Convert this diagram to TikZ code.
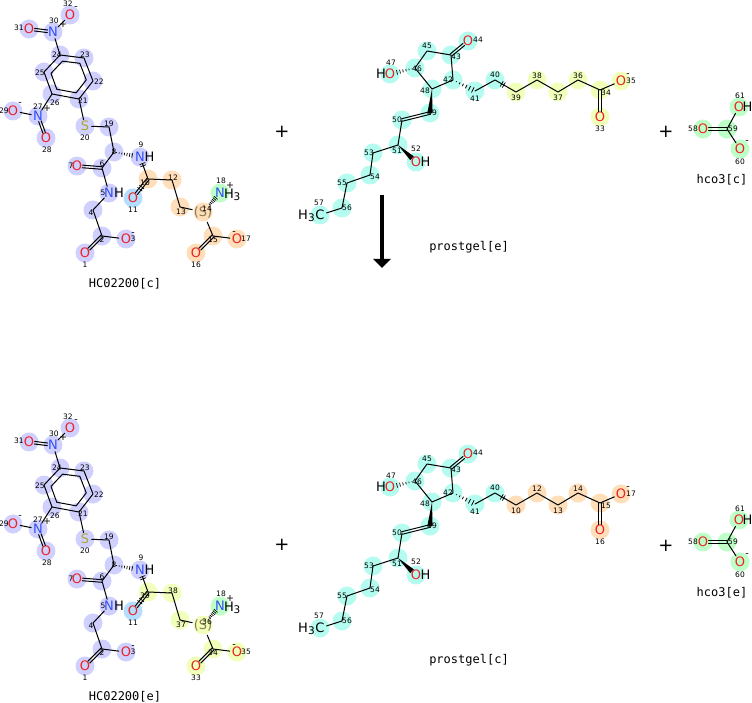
\documentclass[tikz,border=0pt]{standalone}
\usepackage{fontspec}
\setmainfont{DejaVu Sans}
\newfontfamily\capfont{DejaVu Sans Mono}
\usetikzlibrary{calc,arrows.meta}
\pgfdeclarelayer{bg}
\pgfsetlayers{bg,main}

\definecolor{ored}{RGB}{235,35,35}
\definecolor{nblue}{RGB}{50,80,245}
\definecolor{solive}{RGB}{175,165,50}
\definecolor{sbrown}{RGB}{140,120,80}
\definecolor{hlblue}{RGB}{208,208,255}
\definecolor{hlcyan}{RGB}{180,252,240}
\definecolor{hlyellow}{RGB}{240,255,185}
\definecolor{hlorange}{RGB}{255,222,186}
\definecolor{hlgreen}{RGB}{190,255,200}
\definecolor{hlsky}{RGB}{180,222,255}

% double bond, hashed bond, wedge bond, change ticks
\newcommand\dbond[3][]{%
  \draw[bond,#1] ($(#2)!1.3pt!90:(#3)$) -- ($(#3)!1.3pt!-90:(#2)$);
  \draw[bond,#1] ($(#2)!1.3pt!-90:(#3)$) -- ($(#3)!1.3pt!90:(#2)$);}
\newcommand\hbond[3][0.15,0.3,0.45,0.6,0.75,0.9]{%
  \foreach \fr in {#1}
    \draw[line width=0.7pt] ($(#2)!\fr!(#3)!{\fr*3.2pt}!90:(#3)$) -- ($(#2)!\fr!(#3)!{\fr*3.2pt}!-90:(#3)$);}
\newcommand\wbond[3][0pt]{%
  \fill ($(#2)$) -- ($(#3)!#1!(#2)!2.6pt!90:(#2)$) -- ($(#3)!#1!(#2)!2.6pt!-90:(#2)$) -- cycle;}
\newcommand\btick[3]{%
  \foreach \fr in {#1}
    \draw[line width=0.7pt] ($(#2)!\fr!(#3)!3pt!90:(#3)$) -- ($(#2)!\fr!(#3)!3pt!-90:(#3)$);}

\begin{document}
\begin{tikzpicture}[x=1pt, y=-1pt,
    bond/.style = {draw=black, line width=1pt, line cap=round, line join=round},
    atom/.style = {circle, inner sep=0pt, minimum size=11pt, font=\fontsize{13}{13}\selectfont},
    oxy/.style = {atom, text=ored},
    nit/.style = {atom, text=nblue},
    sul/.style = {atom, text=solive},
    car/.style = {atom, text=black},
    hyd/.style = {inner sep=0pt, font=\fontsize{13}{13}\selectfont},
    sub/.style = {inner sep=0pt, font=\fontsize{10.5}{10.5}\selectfont},
    num/.style = {inner sep=0pt, font=\fontsize{7.5}{7.5}\selectfont},
    chg/.style = {inner sep=0pt, font=\fontsize{9.5}{9.5}\selectfont},
    molname/.style = {inner sep=0pt, font=\capfont\fontsize{12}{12}\selectfont},
    plus/.style = {inner sep=0pt, font=\fontsize{18}{18}\selectfont}]
  \useasboundingbox (0,0) rectangle (752,703);

  % HC02200, top and bottom
  \foreach \p/\dy/\hc/\ma/\mb/\mc/\md/\me/\mf/\mg/\cmp in
      {t/0/hlorange/10/12/13/14/15/16/17/c, b/413/hlyellow/39/38/37/36/34/33/35/e} {
  \begin{scope}[shift={(0,\dy)}]
    \node[oxy] (\p-o32) at (70,15) {O};
    \node[nit] (\p-n30) at (53,32) {N};
    \node[oxy] (\p-o31) at (29,29) {O};
    \node[nit] (\p-n27) at (38,116) {N};
    \node[oxy] (\p-o29) at (13,111) {O};
    \node[oxy] (\p-o28) at (46,138) {O};
    \node[sul] (\p-s20) at (85,126) {S};
    \node[nit] (\p-n9) at (140,157) {N};
    \node[oxy] (\p-o7) at (77,166) {O};
    \node[nit] (\p-n5) at (109,193) {N};
    \node[oxy] (\p-o1) at (85,253) {O};
    \node[oxy] (\p-o3) at (126,239) {O};
    \node[oxy] (\p-o11) at (133,198) {O};
    \node[sul, text=sbrown] (\p-s14) at (203,212) {(S)};
    \node[nit] (\p-n18) at (220,193) {N};
    \node[oxy] (\p-o16) at (196,253) {O};
    \node[oxy] (\p-o17) at (237,239) {O};
    \node[hyd] at (149.5,157) {H};
    \node[hyd] at (119,193) {H};
    \node[hyd] at (229,194) {H};
    \node[sub] at (237,197) {3};
    \foreach \a/\x/\y in {c24/60/55, c23/84/58, c22/93/81, c21/79/99, c26/52/94, c25/44/72,
        c19/109/127, c8/114/152, c6/102/168, c4/93/210, c2/102/236,
        c10/148/179, c12/172/180, c13/180/207, c15/213/236}
      \coordinate (\p-\a) at (\x,\y);
    \coordinate (\p-ring) at (69,77);

    \begin{pgfonlayer}{bg}
      \foreach \a in {o32,n30,o31,c24,c23,c22,c21,c26,c25,n27,o29,o28,s20,c19,c8,n9,c6,o7,n5,c4,c2,o1,o3}
        \fill[fill=hlblue] (\p-\a) circle (9.5pt);
      \fill[fill=hlsky] (\p-o11) circle (9.5pt);
      \fill[fill=hlgreen] (\p-n18) circle (9.5pt);
      \foreach \a in {c10,c12,c13,s14,c15,o16,o17}
        \fill[fill=\hc] (\p-\a) circle (9.5pt);
    \end{pgfonlayer}

    \draw[bond] (\p-o32) -- (\p-n30) -- (\p-c24);
    \dbond[shorten <=5.5pt, shorten >=5.5pt]{\p-n30}{\p-o31}
    \draw[bond] (\p-c24) -- (\p-c23) -- (\p-c22) -- (\p-c21) -- (\p-c26) -- (\p-c25) -- cycle;
    \draw[bond] ($(\p-ring)!0.72!(\p-c24)$) -- ($(\p-ring)!0.72!(\p-c23)$) -- ($(\p-ring)!0.72!(\p-c22)$)
      -- ($(\p-ring)!0.72!(\p-c21)$) -- ($(\p-ring)!0.72!(\p-c26)$) -- ($(\p-ring)!0.72!(\p-c25)$) -- cycle;
    \draw[bond] (\p-c26) -- (\p-n27) -- (\p-o29);
    \dbond[shorten <=5.5pt, shorten >=5.5pt]{\p-n27}{\p-o28}
    \draw[bond] (\p-c21) -- (\p-s20) -- (\p-c19) -- (\p-c8) -- (\p-c6) -- (\p-n5) -- (\p-c4) -- (\p-c2) -- (\p-o3);
    \hbond[0.1,0.2,0.3,0.4,0.5,0.6,0.7]{\p-c8}{\p-n9}
    \dbond[shorten >=5.5pt]{\p-c6}{\p-o7}
    \dbond[shorten >=5.5pt]{\p-c2}{\p-o1}
    \draw[bond] (\p-n9) -- (\p-c10) -- (\p-c12) -- (\p-c13) -- (\p-s14) -- (\p-c15) -- (\p-o17);
    \btick{0.3,0.4}{\p-n9}{\p-c10}
    \dbond[shorten >=5.5pt]{\p-c10}{\p-o11}
    \btick{0.42,0.54}{\p-c10}{\p-o11}
    \hbond[0.4,0.47,0.54,0.61,0.68,0.75]{\p-s14}{\p-n18}
    \dbond[shorten >=5.5pt]{\p-c15}{\p-o16}

    \foreach \n/\x/\y in {32/68/4, 30/54/21, 31/19/28, 24/57/55, 23/85/55, 22/99/82, 21/83/101,
        26/55/103, 25/40/73, 27/38/107, 29/4/111, 28/47/150, 20/85/138, 19/109/124, 8/114/152,
        9/141/145, 6/102/164, 7/71/166, 5/103/193, 4/91/213, 2/102/240, 1/85/265, 3/133/239,
        11/133/210, 18/221/181, \ma/145/183, \mb/173/178, \mc/181/212, \md/207/209,
        \me/213/240, \mf/196/265, \mg/246/239}
      \node[num] at (\x,\y) {\n};
    \node[chg] at (76,8) {-};
    \node[chg] at (63,25) {+};
    \node[chg] at (47,109) {+};
    \node[chg] at (20,104) {-};
    \node[chg] at (133,234) {-};
    \node[chg] at (230,186) {+};
    \node[chg] at (234,233) {-};
    \node[molname] at (125,284) {HC02200[\cmp]};
  \end{scope}
  }

  % prostgel, top and bottom
  \foreach \p/\dy/\hc/\ma/\mb/\mc/\md/\me/\mf/\mg/\cmp in
      {t/0/hlyellow/39/38/37/36/34/33/35/e, b/413/hlorange/10/12/13/14/15/16/17/c} {
  \begin{scope}[shift={(0,\dy)}]
    \node[oxy] (\p-o44) at (468,41) {O};
    \node[oxy] (\p-o47) at (390,74) {O};
    \node[oxy] (\p-o35) at (621,81) {O};
    \node[oxy] (\p-o33) at (600,117) {O};
    \node[oxy] (\p-o52) at (416,162) {O};
    \node[car] (\p-c57) at (320,215) {C};
    \node[hyd] at (381,74) {H};
    \node[hyd] at (425.5,162) {H};
    \node[hyd] at (303,215) {H};
    \node[sub] at (311.5,218) {3};
    \foreach \a/\x/\y in {c45/427/51, c43/451/55, c42/453/80, c48/432/89, c46/415/68,
        c41/475/91, c40/495/80, c39/516/92, c38/537/80, c37/558/92, c36/578/80, c34/600/90,
        c49/430/113, c50/402/120, c51/398/145, c53/373/153, c54/370/175, c55/347/183, c56/342/208}
      \coordinate (\p-\a) at (\x,\y);

    \begin{pgfonlayer}{bg}
      \foreach \a in {o44,c43,c45,c46,o47,c48,c42,c41,c40,c49,c50,c51,o52,c53,c54,c55,c56,c57}
        \fill[fill=hlcyan] (\p-\a) circle (9.5pt);
      \foreach \a in {c39,c38,c37,c36,c34,o33,o35}
        \fill[fill=\hc] (\p-\a) circle (9.5pt);
    \end{pgfonlayer}

    \dbond[shorten >=5.5pt]{\p-c43}{\p-o44}
    \draw[bond] (\p-c45) -- (\p-c43) -- (\p-c42) -- (\p-c48) -- (\p-c46) -- cycle;
    \hbond[0.12,0.24,0.36,0.48,0.6,0.72]{\p-c46}{\p-o47}
    \hbond{\p-c42}{\p-c41}
    \draw[bond] (\p-c41) -- (\p-c40) -- (\p-c39) -- (\p-c38) -- (\p-c37) -- (\p-c36) -- (\p-c34) -- (\p-o35);
    \btick{0.32,0.42}{\p-c40}{\p-c39}
    \dbond[shorten >=5.5pt]{\p-c34}{\p-o33}
    \wbond{\p-c48}{\p-c49}
    \dbond{\p-c49}{\p-c50}
    \draw[bond] (\p-c50) -- (\p-c51) -- (\p-c53) -- (\p-c54) -- (\p-c55) -- (\p-c56) -- (\p-c57);
    \wbond[5.5pt]{\p-c51}{\p-o52}

    \foreach \n/\x/\y in {45/427/46, 43/456/57, 44/478/40, 42/448/80, 48/425/91, 46/417/69,
        47/391/63, 41/475/99, 40/495/75, 49/432/113, 50/397/120, 51/397/151, 52/416/149,
        53/369/153, 54/375/177, 55/342/183, 56/347/208, 57/319/203,
        \ma/516/98, \mb/537/76, \mc/558/98, \md/578/76, \me/606/93, \mf/600/129, \mg/631/81}
      \node[num] at (\x,\y) {\n};
    \node[chg] at (628,75) {-};
    \node[molname] at (469,247) {prostgel[\cmp]};
  \end{scope}
  }

  % hco3, top and bottom
  \foreach \p/\dy/\cmp in {t/0/c, b/413/e} {
  \begin{scope}[shift={(0,\dy)}]
    \node[oxy] (\p-o58) at (703,129) {O};
    \node[oxy] (\p-o61) at (739,107) {O};
    \node[oxy] (\p-o60) at (740,149) {O};
    \node[hyd] at (747.5,107) {H};
    \coordinate (\p-c59) at (727,129);
    \begin{pgfonlayer}{bg}
      \foreach \a in {o58,c59,o61,o60}
        \fill[fill=hlgreen] (\p-\a) circle (9.5pt);
    \end{pgfonlayer}
    \dbond[shorten >=5.5pt]{\p-c59}{\p-o58}
    \draw[bond] (\p-o61) -- (\p-c59) -- (\p-o60);
    \foreach \n/\x/\y in {58/693/129, 59/733/129, 61/740/96, 60/740/162}
      \node[num] at (\x,\y) {\n};
    \node[chg] at (747,142) {-};
    \node[molname] at (722,180) {hco3[\cmp]};
  \end{scope}
  }

  % plus signs and reaction arrow
  \node[plus] (plus1) at (282,132) {+};
  \node[plus] (plus2) at (666,132) {+};
  \node[plus] (plus3) at (282,545) {+};
  \node[plus] (plus4) at (666,546) {+};
  \coordinate (arrtop) at (382,195);
  \coordinate (arrend) at (382,268);
  \draw[line width=4.6pt, -{Triangle[width=17pt,length=9pt]}] (arrtop) -- (arrend);
\end{tikzpicture}
\end{document}
